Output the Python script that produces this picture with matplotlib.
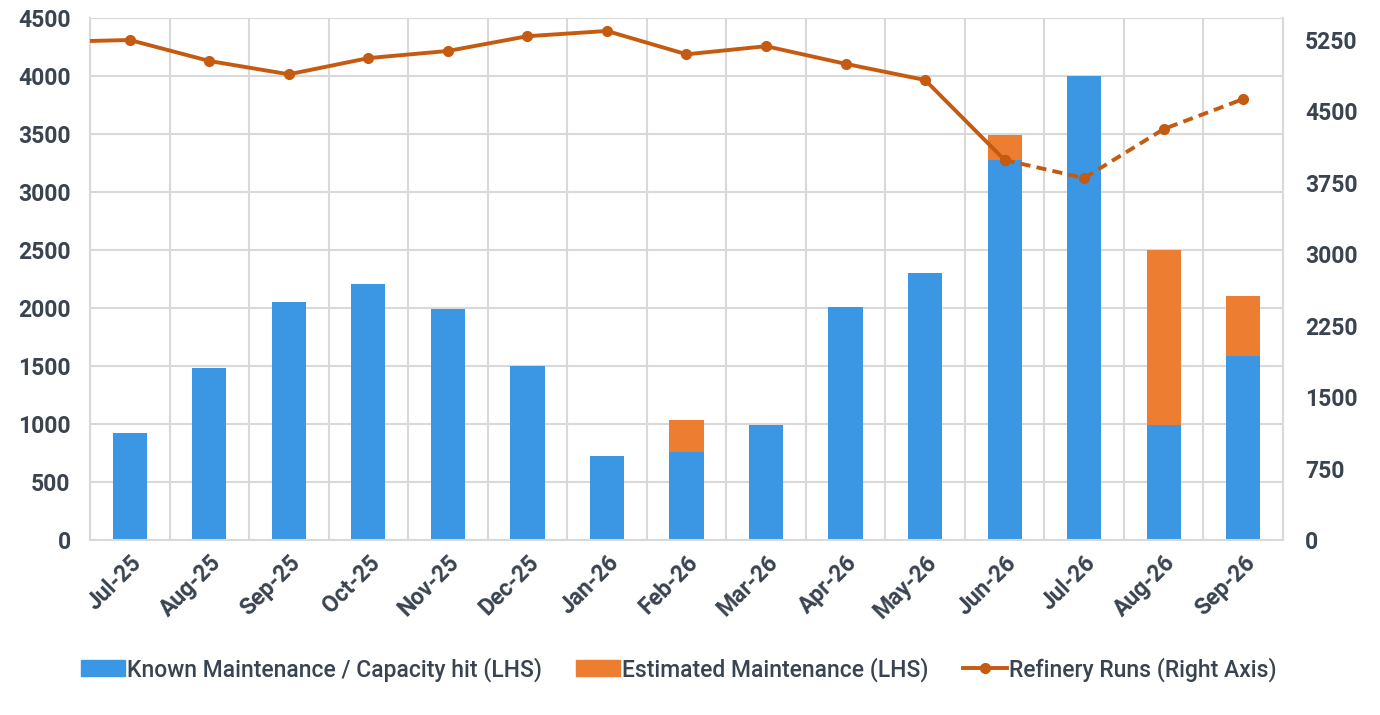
import numpy as np
import matplotlib.pyplot as plt
from matplotlib.patches import Patch
from matplotlib.lines import Line2D

## DATA
months = ['Jul-25', 'Aug-25', 'Sep-25', 'Oct-25', 'Nov-25', 'Dec-25', 'Jan-26', 'Feb-26',
          'Mar-26', 'Apr-26', 'May-26', 'Jun-26', 'Jul-26', 'Aug-26', 'Sep-26']
known = [920, 1480, 2050, 2210, 1990, 1500, 720, 760, 990, 2010, 2300, 3280, 4000, 990, 1590]
estimated = [0, 0, 0, 0, 0, 0, 0, 270, 0, 0, 0, 210, 0, 1510, 510]
runs = [5250, 5030, 4890, 5060, 5135, 5290, 5345, 5100, 5185, 5000, 4830, 3990, 3800, 4315, 4630]
runs_prev = 5230  # Jun-25, only the clipped line stub shows at the left edge
n_actual = 12     # runs up to Jun-26 are solid, the rest dashed (forecast)

BLUE = '#3B97E3'
ORANGE = '#ED7D31'
LINE = '#C55A11'
TXT = '#3A4350'
GRID = '#D9D9D9'

plt.rcParams['font.family'] = ['Roboto', 'DejaVu Sans']

fig = plt.figure(figsize=(13.8, 7.15), dpi=100)
ax = fig.add_axes([0.0652, 0.2448, 0.8645, 0.73])

x = np.arange(len(months))
ax.bar(x, known, width=0.43, color=BLUE, zorder=2)
ax.bar(x, estimated, width=0.43, bottom=known, color=ORANGE, zorder=2)

ax.set_xlim(-0.5, len(months) - 0.5)
ax.set_ylim(0, 4500)
ax.set_yticks(np.arange(0, 4501, 500))
ax.set_xticks(x)
ax.set_xticklabels(months, rotation=45, ha='right', rotation_mode='anchor')
ax.set_xticks(np.arange(-0.5, len(months), 1), minor=True)

ax.grid(False)
ax.yaxis.grid(True, color=GRID, lw=1.5, zorder=0)
ax.xaxis.grid(True, which='minor', color=GRID, lw=1.5, zorder=0)
for s in ax.spines.values():
    s.set_color(GRID)
    s.set_linewidth(1.5)
ax.spines['top'].set_visible(False)
ax.tick_params(axis='both', which='both', length=0, colors=TXT, labelsize=16.5)
ax.tick_params(axis='y', pad=14)
ax.tick_params(axis='x', pad=8)
for lab in ax.get_xticklabels() + ax.get_yticklabels():
    lab.set_fontweight('bold')

ax2 = ax.twinx()
ax2.set_ylim(0, 5481)
ax2.set_yticks(np.arange(0, 5251, 750))
ax2.tick_params(axis='y', length=0, colors=TXT, labelsize=16.5, pad=16)
for lab in ax2.get_yticklabels():
    lab.set_fontweight('bold')
for s in ax2.spines.values():
    s.set_visible(False)

# solid part (with the clipped stub from the previous month)
xs = np.concatenate([[-1], x[:n_actual]])
ys = [runs_prev] + runs[:n_actual]
ax2.plot(xs, ys, color=LINE, lw=2.8, marker='o', ms=7, zorder=4, clip_on=True)
ax2.plot(x[n_actual - 1:], runs[n_actual - 1:], color=LINE, lw=2.8, ls=(0, (2.6, 1.6)),
         marker='o', ms=7, zorder=4)
ax2.set_xlim(-0.5, len(months) - 0.5)

handles = [Patch(color=BLUE, label='Known Maintenance / Capacity hit (LHS)'),
           Patch(color=ORANGE, label='Estimated Maintenance (LHS)'),
           Line2D([], [], color=LINE, lw=2.8, marker='o', ms=7, label='Refinery Runs (Right Axis)')]
leg = fig.legend(handles=handles, loc='center', bbox_to_anchor=(0.492, 0.064), ncol=3,
                 frameon=False, fontsize=16.5, handlelength=1.9, handletextpad=0.1,
                 columnspacing=1.5)
for t in leg.get_texts():
    t.set_color(TXT)
    t.set_fontweight('medium')

fig.savefig('out.png', dpi=100)
